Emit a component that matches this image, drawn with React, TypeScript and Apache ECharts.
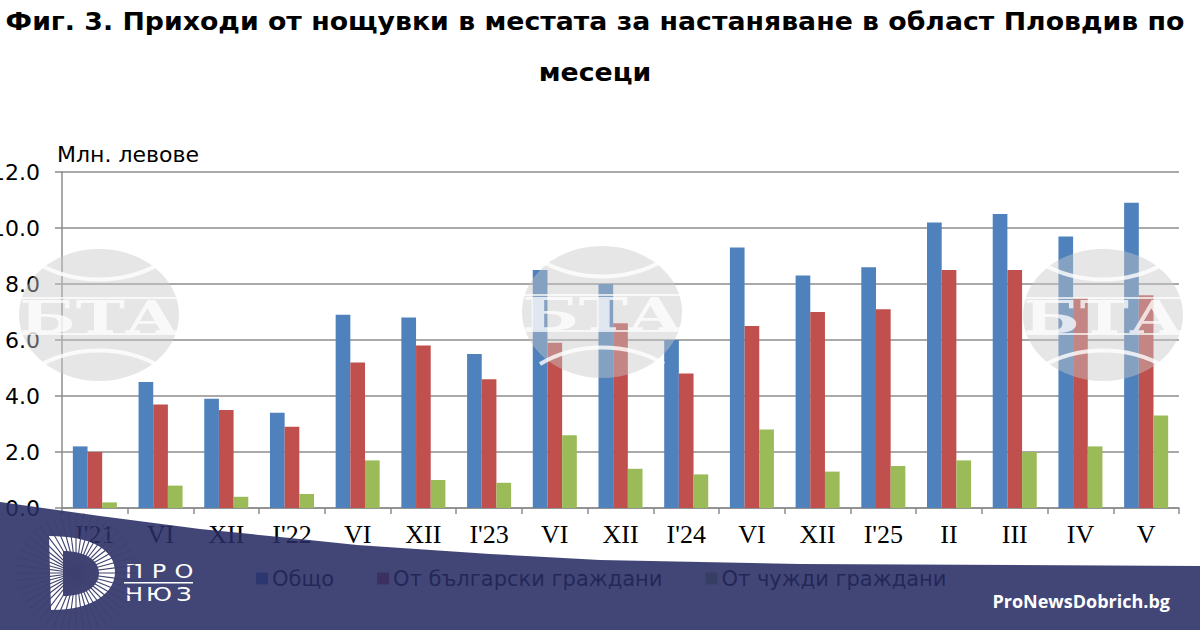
import React, { useEffect, useRef } from "react";
import * as echarts from "echarts";

const categories = ["I'21", "VI", "XII", "I'22", "VI", "XII", "I'23", "VI", "XII", "I'24", "VI", "XII", "I'25", "II", "III", "IV", "V"];
const totalValues = [2.2, 4.5, 3.9, 3.4, 6.9, 6.8, 5.5, 8.5, 8.0, 6.0, 9.3, 8.3, 8.6, 10.2, 10.5, 9.7, 10.9];
const bulgarianValues = [2.0, 3.7, 3.5, 2.9, 5.2, 5.8, 4.6, 5.9, 6.6, 4.8, 6.5, 7.0, 7.1, 8.5, 8.5, 7.5, 7.6];
const foreignValues = [0.2, 0.8, 0.4, 0.5, 1.7, 1.0, 0.9, 2.6, 1.4, 1.2, 2.8, 1.3, 1.5, 1.7, 2.0, 2.2, 3.3];
const seriesNames = ["Общо", "От български граждани", "От чужди граждани"];
const seriesColors = ["#4F81BD", "#C0504D", "#9BBB59"];
const titleLine1 = "Фиг. 3. Приходи от нощувки в местата за настаняване в област Пловдив по";
const titleLine2 = "месеци";
const unitLabel = "Млн. левове";

function watermark(cx: number, cy: number) {
  return {
    type: "group",
    x: cx,
    y: cy,
    z: 20,
    children: [
      { type: "ellipse", shape: { cx: 0, cy: 0, rx: 80, ry: 66 }, style: { fill: "rgba(200,200,200,0.45)" }, z: 20 },
      { type: "bezierCurve", shape: { x1: -62, y1: -52, x2: 62, y2: -52, cpx1: -25, cpy1: -30, cpx2: 25, cpy2: -30 }, style: { stroke: "rgba(255,255,255,0.8)", lineWidth: 4, fill: null }, z: 21 },
      { type: "bezierCurve", shape: { x1: -62, y1: 52, x2: 62, y2: 52, cpx1: -25, cpy1: 30, cpx2: 25, cpy2: 30 }, style: { stroke: "rgba(255,255,255,0.8)", lineWidth: 4, fill: null }, z: 21 },
      { type: "rect", shape: { x: -80, y: -18, width: 160, height: 2 }, style: { fill: "rgba(255,255,255,0.7)" }, z: 21 },
      { type: "rect", shape: { x: -80, y: 18, width: 160, height: 2 }, style: { fill: "rgba(255,255,255,0.7)" }, z: 21 },
      {
        type: "text",
        x: 0,
        y: 2,
        scaleX: 1.5,
        z: 22,
        style: {
          text: "БТА",
          font: 'bold 44px "DejaVu Serif"',
          fill: "rgba(255,255,255,0.75)",
          align: "center",
          verticalAlign: "middle",
        },
      },
    ],
  };
}

export default function App() {
  const ref = useRef<HTMLDivElement>(null);

  useEffect(() => {
    if (!ref.current) return;
    echarts.graphic.registerShape(
      "dlogo",
      echarts.graphic.extendPath(
        "M49,536 L51,610 C94,610 115,592 115,572 C115,550 92,536 49,536 Z M63,551 C86,551 99,561 99,573 C99,586 86,596 63,596 Z",
        {}
      )
    );
    const chart = echarts.init(ref.current, null, { renderer: "svg" });

    const overlayPoints = [
      [0, 502], [100, 516], [200, 529], [290, 538], [357, 545], [490, 554], [600, 560], [800, 564], [1200, 566], [1200, 630], [0, 630],
    ];

    const letter = (ch: string, x: number, y: number) => ({
      type: "text",
      x,
      y,
      z: 110,
      scaleX: 1.2,
      style: { text: ch, font: 'normal 20px "DejaVu Sans"', fill: "#ffffff", align: "center", verticalAlign: "middle" },
    });

    const stripes: any[] = [];
    for (let k = 0; k < 48; k++) {
      const a = (k / 48) * Math.PI * 2;
      stripes.push({
        type: "line",
        z: 111,
        shape: { x1: 76, y1: 573, x2: 76 + Math.cos(a) * 60, y2: 573 + Math.sin(a) * 60 },
        style: { stroke: "#3f416f", lineWidth: 1.1 },
      });
    }

    chart.setOption({
      animation: false,
      backgroundColor: "#ffffff",
      grid: { left: 62, right: 21, top: 172, bottom: 122, containLabel: false, outerBoundsMode: "none" },
      legend: {
        left: 251,
        top: 563,
        itemWidth: 12,
        itemHeight: 12,
        itemGap: 43,
        icon: "rect",
        textStyle: { fontFamily: "DejaVu Sans", fontSize: 21, color: "#000000", padding: [0, 0, 0, -1] },
        data: seriesNames,
      },
      xAxis: {
        type: "category",
        data: categories,
        axisLine: { show: true, lineStyle: { color: "#8c8c8c", width: 1.5 } },
        axisTick: { show: true, length: 6, interval: 0, lineStyle: { color: "#8c8c8c", width: 1.5 } },
        axisLabel: { interval: 0, margin: 13, fontFamily: "Liberation Serif", fontSize: 26, color: "#000000" },
        splitLine: { show: false },
      },
      yAxis: {
        type: "value",
        min: 0,
        max: 12,
        interval: 2,
        axisLine: { show: true, lineStyle: { color: "#8c8c8c", width: 1.5 } },
        axisTick: { show: true, length: 7, lineStyle: { color: "#8c8c8c", width: 1.5 } },
        axisLabel: {
          margin: 22,
          fontFamily: "DejaVu Sans",
          fontSize: 22,
          color: "#000000",
          formatter: (v: number) => v.toFixed(1),
        },
        splitLine: { show: true, lineStyle: { color: "#8c8c8c", width: 1.5 } },
      },
      series: [totalValues, bulgarianValues, foreignValues].map((vals, i) => ({
        name: seriesNames[i],
        type: "bar",
        data: vals,
        barGap: "0%",
        barCategoryGap: "33%",
        itemStyle: { color: seriesColors[i] },
      })),
      graphic: [
        {
          type: "text",
          x: 595,
          y: 22,
          z: 5,
          scaleX: 1.115,
          style: { text: titleLine1, font: 'bold 24px "DejaVu Sans"', fill: "#000000", align: "center", verticalAlign: "middle" },
        },
        {
          type: "text",
          x: 595,
          y: 73,
          z: 5,
          scaleX: 1.115,
          style: { text: titleLine2, font: 'bold 24px "DejaVu Sans"', fill: "#000000", align: "center", verticalAlign: "middle" },
        },
        {
          type: "text",
          x: 57,
          y: 154,
          z: 5,
          style: { text: unitLabel, font: '22px "DejaVu Sans"', fill: "#000000", align: "left", verticalAlign: "middle" },
        },
        watermark(99, 315),
        watermark(602, 312),
        watermark(1103, 315),
        {
          type: "polygon",
          z: 100,
          shape: { points: overlayPoints },
          style: { fill: "rgba(40,44,100,0.88)" },
        },
        {
          type: "dlogo",
          x: 0,
          y: 0,
          z: 110,
          style: { fill: "#ffffff" },
        },
        ...stripes,
        letter("П", 134, 571),
        letter("Р", 159, 571),
        letter("О", 184, 571),
        { type: "rect", z: 110, shape: { x: 124, y: 582, width: 69, height: 1.5 }, style: { fill: "#ffffff" } },
        letter("Н", 134, 594),
        letter("Ю", 159, 594),
        letter("З", 184, 594),
        {
          type: "text",
          x: 1170,
          y: 601,
          z: 110,
          style: { text: "ProNewsDobrich.bg", font: 'bold 18px "Open Sans"', fill: "#ffffff", align: "right", verticalAlign: "middle" },
        },
      ],
    });
    return () => chart.dispose();
  }, []);

  return <div ref={ref} style={{ position: "absolute", left: 0, top: 0, width: 1200, height: 630 }} />;
}
